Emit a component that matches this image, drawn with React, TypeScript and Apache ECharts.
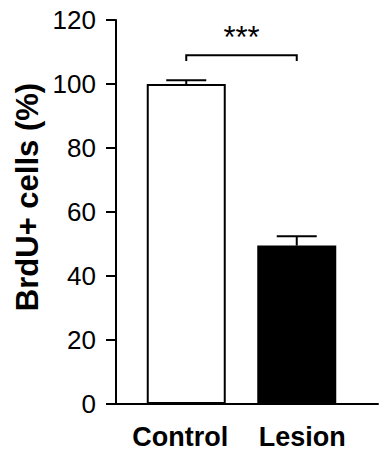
import React, { useEffect, useRef } from "react";
import * as echarts from "echarts";

const categories = ["Control", "Lesion"];
const means = [100, 49.5];
const sems = [1.2, 2.9];
const yTicks = { min: 0, max: 120, interval: 20 };
// significance bracket: [fromIndex, toIndex, lineY, dropY, labelY, label]
const significance = [[0, 1, 109, 107.2, 114.4, "***"]];
const yAxisTitle = "BrdU+ cells (%)";

const FONT = '"Liberation Sans", Arial, sans-serif';
const labelPads = [
  [0, 12, 0, 0],
  [0, 0, 0, 11],
];

export default function App() {
  const ref = useRef<HTMLDivElement>(null);
  useEffect(() => {
    const chart = echarts.init(ref.current!, null, { renderer: "svg" });
    const option: any = {
      animation: false,
      backgroundColor: "#fff",
      grid: [
        { left: 131, right: 27, top: 20, bottom: 51 },
        { left: 116, right: 1, top: 20, bottom: 51 },
      ],
      xAxis: [
        {
          type: "category",
          gridIndex: 0,
          data: categories.map((c, i) => ({ value: c, textStyle: { padding: labelPads[i] } })),
          axisLine: { show: false },
          axisTick: { show: false },
          axisLabel: {
            interval: 0,
            hideOverlap: false,
            margin: 19,
            color: "#000",
            fontFamily: FONT,
            fontWeight: "bold",
            fontSize: 27,
          },
        },
        {
          type: "value",
          gridIndex: 1,
          min: 0,
          max: 1,
          axisLine: { show: true, lineStyle: { color: "#000", width: 2 } },
          axisTick: { show: false },
          axisLabel: { show: false },
          splitLine: { show: false },
        },
      ],
      yAxis: [
        {
          type: "value",
          gridIndex: 0,
          show: false,
          min: yTicks.min,
          max: yTicks.max,
          interval: yTicks.interval,
          splitLine: { show: false },
        },
        {
          type: "value",
          gridIndex: 1,
          min: yTicks.min,
          max: yTicks.max,
          interval: yTicks.interval,
          axisLine: { show: true, lineStyle: { color: "#000", width: 2 } },
          axisTick: { show: true, length: 10, lineStyle: { color: "#000", width: 2 } },
          axisLabel: { margin: 20, color: "#000", fontFamily: FONT, fontSize: 26 },
          splitLine: { show: false },
        },
      ],
      graphic: [
        {
          type: "text",
          x: 27,
          y: 197,
          rotation: Math.PI / 2,
          style: {
            text: yAxisTitle,
            align: "center",
            verticalAlign: "middle",
            font: `bold 31px ${FONT}`,
            fill: "#000",
          },
        },
      ],
      series: [
        {
          type: "bar",
          xAxisIndex: 0,
          yAxisIndex: 0,
          barWidth: 79,
          data: means.map((v, i) => ({
            value: v,
            itemStyle:
              i === 0
                ? { color: "#fff", borderColor: "#000", borderWidth: 2 }
                : { color: "#000", borderColor: "#000", borderWidth: 2 },
          })),
        },
        {
          type: "custom",
          xAxisIndex: 0,
          yAxisIndex: 0,
          data: means.map((m, i) => [i, m, m + sems[i]]),
          encode: { x: 0, y: [1, 2] },
          renderItem: (params: any, api: any) => {
            const p0 = api.coord([api.value(0), api.value(1)]);
            const p1 = api.coord([api.value(0), api.value(2)]);
            const half = api.size([1, 0])[0] * 0.181;
            const st = { stroke: "#000", lineWidth: 2 };
            return {
              type: "group",
              children: [
                { type: "line", shape: { x1: p0[0], y1: p0[1], x2: p1[0], y2: p1[1] }, style: st },
                { type: "line", shape: { x1: p1[0] - half, y1: p1[1], x2: p1[0] + half, y2: p1[1] }, style: st },
              ],
            };
          },
          z: 3,
        },
        {
          type: "custom",
          xAxisIndex: 0,
          yAxisIndex: 0,
          data: significance,
          encode: { x: [0, 1], y: [2, 3, 4] },
          renderItem: (params: any, api: any) => {
            const d = significance[params.dataIndex];
            const a = api.coord([d[0], d[2]]);
            const b = api.coord([d[1], d[2]]);
            const a2 = api.coord([d[0], d[3]]);
            const b2 = api.coord([d[1], d[3]]);
            const t = api.coord([d[0], d[4]]);
            return {
              type: "group",
              children: [
                {
                  type: "polyline",
                  shape: { points: [a2, a, b, b2] },
                  style: { stroke: "#000", lineWidth: 2, fill: "none" },
                },
                {
                  type: "text",
                  style: {
                    text: d[5],
                    x: (a[0] + b[0]) / 2,
                    y: t[1],
                    align: "center",
                    verticalAlign: "middle",
                    font: `31px ${FONT}`,
                    fill: "#000",
                  },
                },
              ],
            };
          },
        },
      ],
    };
    chart.setOption(option);
    return () => chart.dispose();
  }, []);
  return (
    <div
      ref={ref}
      style={{ width: 379, height: 455, position: "fixed", left: 0, top: 0 }}
    />
  );
}
